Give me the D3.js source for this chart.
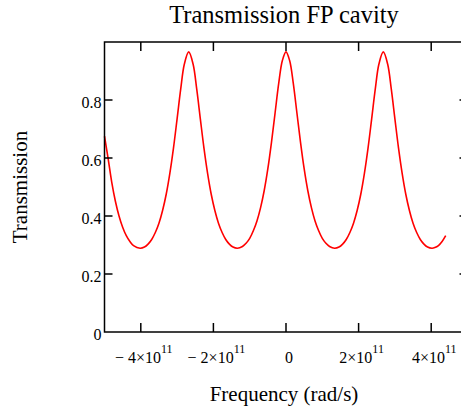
<html>
<head>
  <meta charset="utf-8">
  <title>Transmission FP cavity</title>
  <script src="https://cdnjs.cloudflare.com/ajax/libs/d3/7.8.5/d3.min.js"></script>
  <style>
    body { margin: 0; background: #fff; }
    text { font-family: "Liberation Serif", "Times New Roman", serif; fill: #000; }
  </style>
</head>
<body>
  <div id="viz"></div>
  <script type="text/javascript">
    // frequency in units of 1e11 rad/s
    var freq = [
      -5.0, -4.9, -4.8, -4.7, -4.6, -4.5, -4.4, -4.3, -4.2, -4.02,
      -3.9, -3.8, -3.7, -3.6, -3.5, -3.4, -3.3, -3.2, -3.1, -3.0, -2.9, -2.8, -2.68,
      -2.56, -2.46, -2.36, -2.26, -2.16, -2.06, -1.96, -1.86, -1.76, -1.66, -1.56, -1.46, -1.34,
      -1.2, -1.1, -1.0, -0.9, -0.8, -0.7, -0.6, -0.5, -0.4, -0.3, -0.2, -0.1, 0,
      0.1, 0.2, 0.3, 0.4, 0.5, 0.6, 0.7, 0.8, 0.9, 1.0, 1.1, 1.2, 1.34,
      1.46, 1.56, 1.66, 1.76, 1.86, 1.96, 2.06, 2.16, 2.26, 2.36, 2.46, 2.56, 2.68,
      2.8, 2.9, 3.0, 3.1, 3.2, 3.3, 3.4, 3.5, 3.6, 3.7, 3.8, 3.9, 4.02,
      4.1, 4.2, 4.3, 4.4
    ];
    var trans = [
      0.675, 0.598, 0.516, 0.451, 0.400, 0.361, 0.332, 0.312, 0.298, 0.289,
      0.293, 0.303, 0.319, 0.343, 0.375, 0.419, 0.475, 0.547, 0.634, 0.735, 0.838, 0.924, 0.966,
      0.924, 0.838, 0.735, 0.634, 0.547, 0.475, 0.419, 0.375, 0.343, 0.319, 0.303, 0.293, 0.289,
      0.295, 0.306, 0.323, 0.349, 0.383, 0.429, 0.488, 0.563, 0.654, 0.756, 0.858, 0.936, 0.966,
      0.936, 0.858, 0.756, 0.654, 0.563, 0.488, 0.429, 0.383, 0.349, 0.323, 0.306, 0.295, 0.289,
      0.293, 0.303, 0.319, 0.343, 0.375, 0.419, 0.475, 0.547, 0.634, 0.735, 0.838, 0.924, 0.966,
      0.924, 0.838, 0.735, 0.634, 0.547, 0.475, 0.419, 0.375, 0.343, 0.319, 0.303, 0.293, 0.289,
      0.291, 0.298, 0.312, 0.332
    ];
    var xTicks = [-4, -2, 0, 2, 4];          // x 1e11
    var yTicks = [0, 0.2, 0.4, 0.6, 0.8];

    var width = 461, height = 411;
    var pLeft = 104.5, pRight = 467.5, pTop = 42, pBottom = 332;

    var svg = d3.select("#viz").append("svg")
        .attr("width", width)
        .attr("height", height);

    var x = d3.scaleLinear().domain([-5, 5]).range([pLeft, pRight]);
    var y = d3.scaleLinear().domain([0, 1]).range([pBottom, pTop]);

    var data = freq.map(function (f, i) { return { f: f, t: trans[i] }; });

    // the curve
    var line = d3.line()
        .x(function (d) { return x(d.f); })
        .y(function (d) { return y(d.t); })
        .curve(d3.curveCatmullRom);

    svg.append("path")
        .datum(data)
        .attr("d", line)
        .attr("fill", "none")
        .attr("stroke", "#ff0000")
        .attr("stroke-width", 1.6);

    // frame (right side falls outside the window)
    svg.append("rect")
        .attr("x", pLeft).attr("y", pTop)
        .attr("width", pRight - pLeft).attr("height", pBottom - pTop)
        .attr("fill", "none")
        .attr("stroke", "#000")
        .attr("stroke-width", 1.5);

    // ticks on all four sides, pointing inward
    var tk = svg.append("g").attr("stroke", "#000").attr("stroke-width", 1.5);
    xTicks.forEach(function (v) {
      tk.append("line").attr("x1", x(v)).attr("x2", x(v)).attr("y1", pBottom).attr("y2", pBottom - 9);
      tk.append("line").attr("x1", x(v)).attr("x2", x(v)).attr("y1", pTop).attr("y2", pTop + 9);
    });
    yTicks.slice(1).forEach(function (v) {
      tk.append("line").attr("x1", pLeft).attr("x2", pLeft + 8).attr("y1", y(v)).attr("y2", y(v));
      tk.append("line").attr("x1", pRight).attr("x2", pRight - 8).attr("y1", y(v)).attr("y2", y(v));
    });

    // y tick labels
    svg.selectAll(".ylab")
        .data(yTicks)
        .enter().append("text")
        .attr("x", pLeft - 3)
        .attr("y", function (d) { return y(d) + 8; })
        .attr("text-anchor", "end")
        .style("font-size", "16px")
        .text(function (d) { return d === 0 ? "0" : d3.format(".1f")(d); });

    // x tick labels, Mathcad style with exponent
    xTicks.forEach(function (v) {
      var t = svg.append("text")
          .attr("x", x(v) + 3)
          .attr("y", 363)
          .attr("text-anchor", "middle")
          .style("font-size", "16px");
      if (v === 0) { t.text("0"); return; }
      t.append("tspan").text((v < 0 ? "\u2212 " : "") + Math.abs(v) + "\u00d710");
      t.append("tspan").attr("dy", -10).style("font-size", "12px").text("11");
    });

    // title and axis titles
    svg.append("text")
        .attr("x", 284).attr("y", 23)
        .attr("text-anchor", "middle")
        .style("font-size", "24.5px")
        .text("Transmission FP cavity");

    svg.append("text")
        .attr("x", 284).attr("y", 401)
        .attr("text-anchor", "middle")
        .style("font-size", "21px")
        .text("Frequency (rad/s)");

    svg.append("text")
        .attr("transform", "translate(27," + ((pTop + pBottom) / 2) + ") rotate(-90)")
        .attr("text-anchor", "middle")
        .style("font-size", "21px")
        .text("Transmission");
  </script>
</body>
</html>
